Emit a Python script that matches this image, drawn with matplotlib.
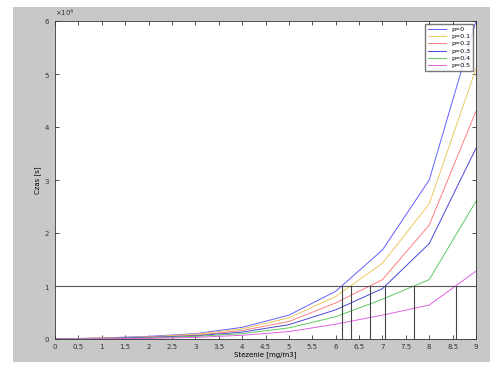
import numpy as np
import matplotlib.pyplot as plt
from matplotlib.patches import Rectangle

# sampled points (x = 0..9), values in units of 1e4
x_vals = [0, 1, 2, 3, 4, 5, 6, 7, 8, 9]
curve_1 = [0.0, 0.02, 0.05, 0.1, 0.22, 0.45, 0.9, 1.68, 3.0, 6.0]
curve_2 = [0.0, 0.02, 0.04, 0.09, 0.19, 0.4, 0.8, 1.43, 2.55, 5.1]
curve_3 = [0.0, 0.015, 0.035, 0.07, 0.16, 0.33, 0.68, 1.12, 2.15, 4.3]
curve_4 = [0.0, 0.012, 0.03, 0.06, 0.13, 0.27, 0.55, 0.95, 1.8, 3.6]
curve_5 = [0.0, 0.01, 0.02, 0.05, 0.1, 0.21, 0.42, 0.75, 1.12, 2.6]
curve_6 = [0.0, 0.005, 0.012, 0.03, 0.07, 0.14, 0.28, 0.45, 0.64, 1.28]
labels = ['p=0', 'p=0.1', 'p=0.2', 'p=0.3', 'p=0.4', 'p=0.5']
colors = ['#6060ff', '#ecc860', '#ff8080', '#4848d8', '#60c860', '#e060e0']
threshold = 1.0
scale = 1e4

x_ticks = np.arange(0, 9.01, 0.5)

fig = plt.figure(figsize=(5, 3.7), dpi=100, facecolor='white')
# gray panel behind the axes
bg = Rectangle((13 / 500, 1 - 362 / 370), 477 / 500, 355 / 370,
               transform=fig.transFigure, facecolor='#c8c8c8',
               edgecolor='none', zorder=-10)
fig.add_artist(bg)
ax = fig.add_axes([55 / 500, 1 - 339 / 370, 421 / 500, 318 / 370])
ax.set_zorder(5)
ax.set_facecolor('white')

curves = [curve_1, curve_2, curve_3, curve_4, curve_5, curve_6]
for c, lab, col in zip(curves, labels, colors):
    ax.plot(x_vals, np.array(c) * scale, color=col, lw=0.7, label=lab)

# threshold line and crossing markers
ax.axhline(threshold * scale, color='#555555', lw=0.8)
for c in curves:
    xc = np.interp(threshold, c, x_vals)
    ax.plot([xc, xc], [0, threshold * scale], color='#454545', lw=0.8)

ax.set_xlim(0, 9)
ax.set_ylim(0, 6 * scale)
ax.set_xticks(x_ticks)
ax.set_xticklabels([f'{t:g}' for t in x_ticks])
ax.set_yticks(np.arange(0, 7) * scale)
ax.ticklabel_format(axis='y', style='sci', scilimits=(0, 0), useMathText=True)
ax.yaxis.get_offset_text().set_fontsize(5)
ax.tick_params(direction='in', labelsize=5, length=3, width=0.6,
               top=True, right=True, colors='#333333')
for s in ax.spines.values():
    s.set_linewidth(0.6)
    s.set_color('#333333')

ax.set_xlabel('Stezenie [mg/m3]', fontsize=5, labelpad=1)
ax.set_ylabel('Czas [s]', fontsize=5, labelpad=2)

ax.legend(loc='upper right', fontsize=4.5, frameon=True, fancybox=False,
          edgecolor='#555555', handlelength=3, borderpad=0.4,
          labelspacing=0.3)

fig.savefig('out.png', dpi=100, facecolor=fig.get_facecolor())
